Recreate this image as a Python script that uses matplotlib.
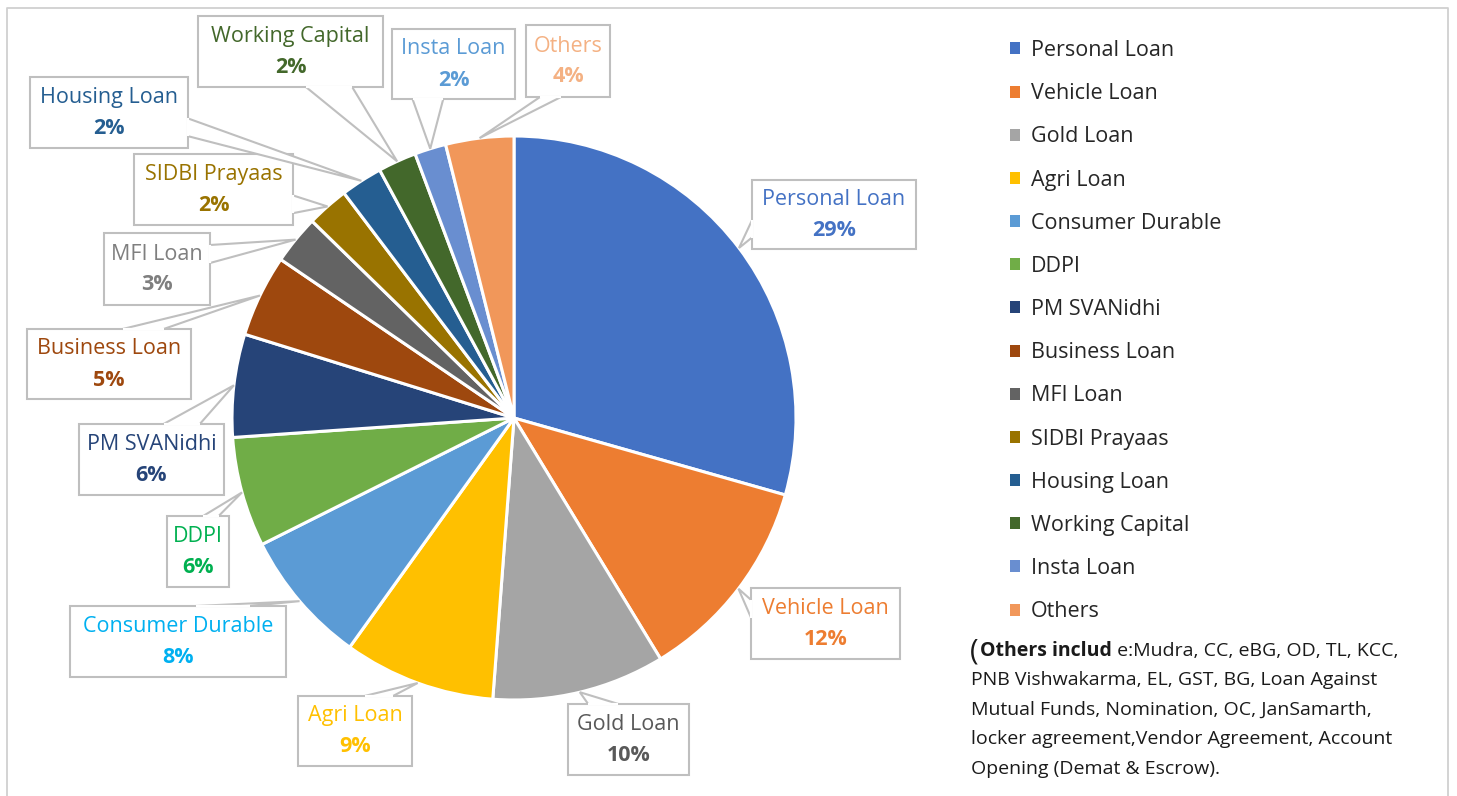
import matplotlib
matplotlib.use("Agg")
import matplotlib.pyplot as plt
from matplotlib.patches import Rectangle, Polygon, Patch
import numpy as np

# ---------------- data ----------------
categories = ["Personal Loan", "Vehicle Loan", "Gold Loan", "Agri Loan",
              "Consumer Durable", "DDPI", "PM SVANidhi", "Business Loan",
              "MFI Loan", "SIDBI Prayaas", "Housing Loan", "Working Capital",
              "Insta Loan", "Others"]
shares = [29.4, 11.9, 9.9, 8.7, 7.7, 6.3, 5.9, 4.7, 2.8, 2.4, 2.4, 2.2, 1.8, 3.9]

slice_colors = ["#4472C4", "#ED7D31", "#A5A5A5", "#FFC000", "#5B9BD5", "#70AD47",
                "#264478", "#9E480E", "#636363", "#997300", "#255E91", "#43682B",
                "#698ED0", "#F1975A"]
label_colors = ["#4472C4", "#ED7D31", "#595959", "#FFC000", "#00B0F0", "#00B050",
                "#264478", "#9E480E", "#7F7F7F", "#997300", "#255E91", "#43682B",
                "#5B9BD5", "#F4B183"]

note_bold = "Others includ"
note_lines = [" e:Mudra, CC, eBG, OD, TL, KCC,",
              "PNB Vishwakarma, EL, GST, BG, Loan Against",
              "Mutual Funds, Nomination, OC, JanSamarth,",
              "locker agreement,Vendor Agreement, Account",
              "Opening (Demat & Escrow)."]

# ---------------- layout (pixel coords, y downward) ----------------
W, H = 1457, 796
PIE_CX, PIE_CY, PIE_R = 514, 418, 282
# callout boxes: x0, y0, x1, y1
boxes = [(752, 180, 916, 249), (751, 588, 900, 659), (568, 704, 689, 775),
         (298, 696, 412, 766), (70, 606, 286, 677), (167, 516, 229, 587),
         (79, 424, 224, 495), (27, 329, 191, 399), (104, 233, 210, 305),
         (134, 154, 293, 225), (30, 77, 188, 148), (198, 16, 383, 87),
         (392, 29, 515, 99), (526, 25, 610, 97)]

FONT = ["Open Sans", "DejaVu Sans"]
plt.rcParams["font.family"] = FONT

fig = plt.figure(figsize=(W / 100, H / 100), dpi=100)
ax = fig.add_axes([0, 0, 1, 1])


def Y(y):
    return H - y


wedges, _ = ax.pie(shares, colors=slice_colors, startangle=90, counterclock=False,
                   radius=PIE_R, center=(PIE_CX, Y(PIE_CY)),
                   wedgeprops=dict(edgecolor="white", linewidth=2.2))
ax.set_xlim(0, W)
ax.set_ylim(0, H)
ax.set_aspect("auto")
ax.axis("off")

# outer frame
frame_c = "#D0D0D0"
ax.plot([7, 7, 1448, 1448], [Y(800), Y(8), Y(8), Y(800)], color=frame_c, lw=1.3,
        zorder=1, clip_on=False)

# callouts
edge_c = "#BFBFBF"
for i, (w, (x0, y0, x1, y1)) in enumerate(zip(wedges, boxes)):
    mid = np.deg2rad((w.theta1 + w.theta2) / 2)
    tx = PIE_CX + PIE_R * np.cos(mid)
    ty = PIE_CY - PIE_R * np.sin(mid)
    bw, bh = x1 - x0, y1 - y0
    cx, cy = (x0 + x1) / 2, (y0 + y1) / 2
    dx, dy = tx - cx, ty - cy
    dq = dx * bh / bw
    if abs(dy) - abs(dq) > 0:
        g1, g2 = (7, 10) if dx > 0 else (2, 5)
        ey = y1 if dy > 0 else y0
        b1 = (x0 + bw * g1 / 12, ey)
        b2 = (x0 + bw * g2 / 12, ey)
    else:
        g1, g2 = (7, 10) if dy > 0 else (2, 5)
        ex = x1 if dx > 0 else x0
        b1 = (ex, y0 + bh * g1 / 12)
        b2 = (ex, y0 + bh * g2 / 12)
    ax.add_patch(Rectangle((x0, Y(y1)), bw, bh, facecolor="white", edgecolor=edge_c,
                           lw=1.5, zorder=5))
    ax.add_patch(Polygon([(b1[0], Y(b1[1])), (tx, Y(ty)), (b2[0], Y(b2[1]))],
                         closed=False, facecolor="white", edgecolor=edge_c, lw=1.5,
                         zorder=6))
    ax.plot([b1[0], b2[0]], [Y(b1[1]), Y(b2[1])], color="white", lw=1.6, zorder=6.5,
            solid_capstyle="butt")
    ax.text(cx, Y(cy - 15), categories[i], ha="center", va="center", fontsize=15.5,
            color=label_colors[i], zorder=7)
    ax.text(cx, Y(cy + 16), f"{round(shares[i])}%", ha="center", va="center",
            fontsize=15.5, fontweight="bold", color=label_colors[i], zorder=7)

# legend
handles = [Patch(facecolor=c, edgecolor="none") for c in slice_colors]
leg = ax.legend(handles, categories, loc="upper left",
                bbox_to_anchor=(1010, Y(40)), bbox_transform=ax.transData,
                frameon=False, fontsize=15.5, labelspacing=1.03, handlelength=0.48,
                handleheight=0.48, handletextpad=0.5, borderpad=0, borderaxespad=0,
                labelcolor="#262626")

# note text
note_c = "#1a1a1a"
NFS = 14
fig.canvas.draw()
r = fig.canvas.get_renderer()
t0 = ax.text(970, Y(660), "(", fontsize=21, color=note_c, va="baseline", ha="left")
fig.canvas.draw()
x = t0.get_window_extent(r).x1 + 1
t1 = ax.text(x, Y(656), note_bold, fontsize=NFS, fontweight="bold", color=note_c,
             va="baseline", ha="left")
fig.canvas.draw()
x = t1.get_window_extent(r).x1
ax.text(x, Y(656), note_lines[0], fontsize=NFS, color=note_c, va="baseline", ha="left")
for k, line in enumerate(note_lines[1:]):
    ax.text(971, Y(655 + 29.8 * (k + 1)), line, fontsize=NFS, color=note_c,
            va="baseline", ha="left")

fig.savefig("out.png", dpi=100, facecolor="white")
